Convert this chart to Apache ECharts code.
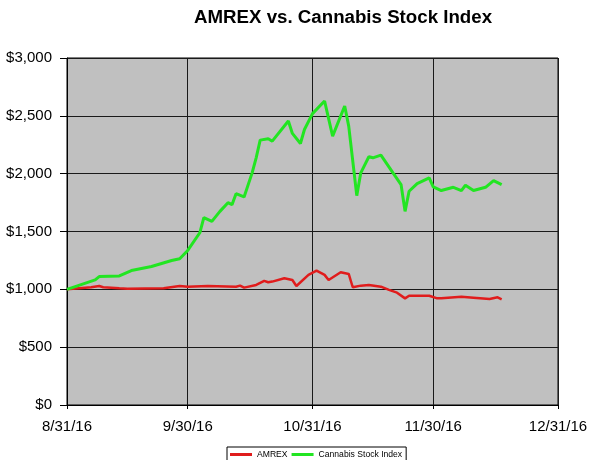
<!DOCTYPE html>
<html>
<head>
<meta charset="utf-8">
<script src="https://cdn.jsdelivr.net/npm/echarts@6/dist/echarts.min.js"></script>
<style>html,body{margin:0;padding:0;background:#fff;}#chart{width:600px;height:460px;}</style>
</head>
<body>
<div id="chart"></div>
<script>
var titleText = 'AMREX vs. Cannabis Stock Index';
var xTickDates = ['2016-08-31', '2016-09-30', '2016-10-31', '2016-11-30', '2016-12-31'];
var yTicks = [0, 500, 1000, 1500, 2000, 2500, 3000];

var amrexDates = ['2016-08-31','2016-09-06','2016-09-08','2016-09-09','2016-09-13','2016-09-15','2016-09-24','2016-09-28','2016-09-30','2016-10-05','2016-10-12','2016-10-13','2016-10-14','2016-10-17','2016-10-19','2016-10-20','2016-10-21','2016-10-24','2016-10-26','2016-10-27','2016-10-30','2016-11-01','2016-11-03','2016-11-04','2016-11-07','2016-11-09','2016-11-10','2016-11-12','2016-11-14','2016-11-17','2016-11-19','2016-11-21','2016-11-23','2016-11-24','2016-11-29','2016-12-01','2016-12-02','2016-12-07','2016-12-10','2016-12-14','2016-12-16','2016-12-17'];
var amrexValues = [1000,1018,1029,1018,1009,1006,1009,1029,1023,1029,1023,1032,1015,1038,1073,1061,1067,1096,1081,1029,1125,1162,1125,1081,1148,1133,1018,1032,1038,1023,995,971,922,945,945,922,922,936,928,916,931,914];

var cannabisDates = ['2016-08-31','2016-09-07','2016-09-08','2016-09-13','2016-09-16','2016-09-21','2016-09-26','2016-09-28','2016-09-30','2016-10-03','2016-10-04','2016-10-06','2016-10-08','2016-10-10','2016-10-11','2016-10-12','2016-10-14','2016-10-16','2016-10-17','2016-10-18','2016-10-20','2016-10-21','2016-10-25','2016-10-26','2016-10-28','2016-10-29','2016-10-31','2016-11-03','2016-11-05','2016-11-08','2016-11-09','2016-11-11','2016-11-12','2016-11-14','2016-11-15','2016-11-17','2016-11-20','2016-11-22','2016-11-23','2016-11-24','2016-11-26','2016-11-29','2016-11-30','2016-12-02','2016-12-05','2016-12-07','2016-12-08','2016-12-10','2016-12-13','2016-12-15','2016-12-17'];
var cannabisValues = [1000,1082,1110,1116,1162,1197,1249,1264,1336,1489,1619,1587,1674,1749,1732,1827,1799,2007,2137,2290,2302,2281,2455,2348,2261,2382,2519,2628,2325,2585,2411,1810,2007,2146,2137,2160,2007,1906,1674,1848,1914,1964,1886,1854,1882,1854,1900,1854,1882,1940,1906];

function toTime(s) {
  var p = s.split('-');
  return Date.UTC(+p[0], +p[1] - 1, +p[2]);
}
var t0 = toTime(xTickDates[0]);
function toDay(s) { return Math.round((toTime(s) - t0) / 86400000); }
function pairs(dates, vals) {
  return dates.map(function (d, i) { return [toDay(d), vals[i]]; });
}
function fmtDay(v) {
  var d = new Date(t0 + Math.round(v) * 86400000);
  return (d.getUTCMonth() + 1) + '/' + d.getUTCDate() + '/' + String(d.getUTCFullYear()).slice(2);
}
function fmtMoney(v) {
  return '$' + String(v).replace(/\B(?=(\d{3})+(?!\d))/g, ',');
}

var xTicks = xTickDates.map(toDay);
var font = 'Arial, "Liberation Sans", sans-serif';

var chart = echarts.init(document.getElementById('chart'), null, {renderer: 'canvas'});
chart.setOption({
  animation: false,
  backgroundColor: '#ffffff',
  title: {
    text: titleText,
    left: 338,
    top: 3,
    textAlign: 'center',
    textStyle: {fontFamily: font, fontSize: 18.7, fontWeight: 'bold', color: '#000'}
  },
  legend: {
    left: 227,
    top: 447,
    padding: [3, 4, 12, 3],
    itemGap: 4,
    itemWidth: 22,
    itemHeight: 3,
    icon: 'rect',
    borderColor: '#000',
    borderWidth: 1,
    backgroundColor: '#fff',
    textStyle: {fontFamily: font, fontSize: 8.6, color: '#000'},
    data: ['AMREX', 'Cannabis Stock Index']
  },
  grid: {
    left: 67, right: 42, top: 58, bottom: 55,
    show: true,
    backgroundColor: '#c0c0c0',
    borderColor: '#000',
    borderWidth: 1
  },
  xAxis: {
    type: 'value',
    min: xTicks[0],
    max: xTicks[xTicks.length - 1],
    axisLine: {show: true, onZero: false, lineStyle: {color: '#000', width: 1}},
    axisTick: {show: true, length: 4, inside: false, customValues: xTicks, lineStyle: {color: '#000'}},
    axisLabel: {
      customValues: xTicks,
      margin: 14,
      fontFamily: font, fontSize: 15, color: '#000',
      formatter: function (v) { return fmtDay(v); }
    },
    splitLine: {show: true, lineStyle: {color: '#1a1a1a', width: 1}}
  },
  yAxis: {
    type: 'value',
    min: yTicks[0],
    max: yTicks[yTicks.length - 1],
    interval: 500,
    axisLine: {show: true, lineStyle: {color: '#000', width: 1}},
    axisTick: {show: true, length: 7, inside: false, lineStyle: {color: '#000'}},
    axisLabel: {
      margin: 15,
      fontFamily: font, fontSize: 15, color: '#000',
      formatter: function (v) { return fmtMoney(v); }
    },
    splitLine: {show: true, lineStyle: {color: '#1a1a1a', width: 1}}
  },
  series: [
    {
      name: 'AMREX',
      type: 'line',
      symbol: 'none',
      data: pairs(amrexDates, amrexValues),
      lineStyle: {color: '#e01c1c', width: 2.5},
      itemStyle: {color: '#e01c1c'},
      z: 3
    },
    {
      name: 'Cannabis Stock Index',
      type: 'line',
      symbol: 'none',
      data: pairs(cannabisDates, cannabisValues),
      lineStyle: {color: '#22e522', width: 3},
      itemStyle: {color: '#22e522'},
      z: 4
    }
  ]
});
</script>
</body>
</html>
